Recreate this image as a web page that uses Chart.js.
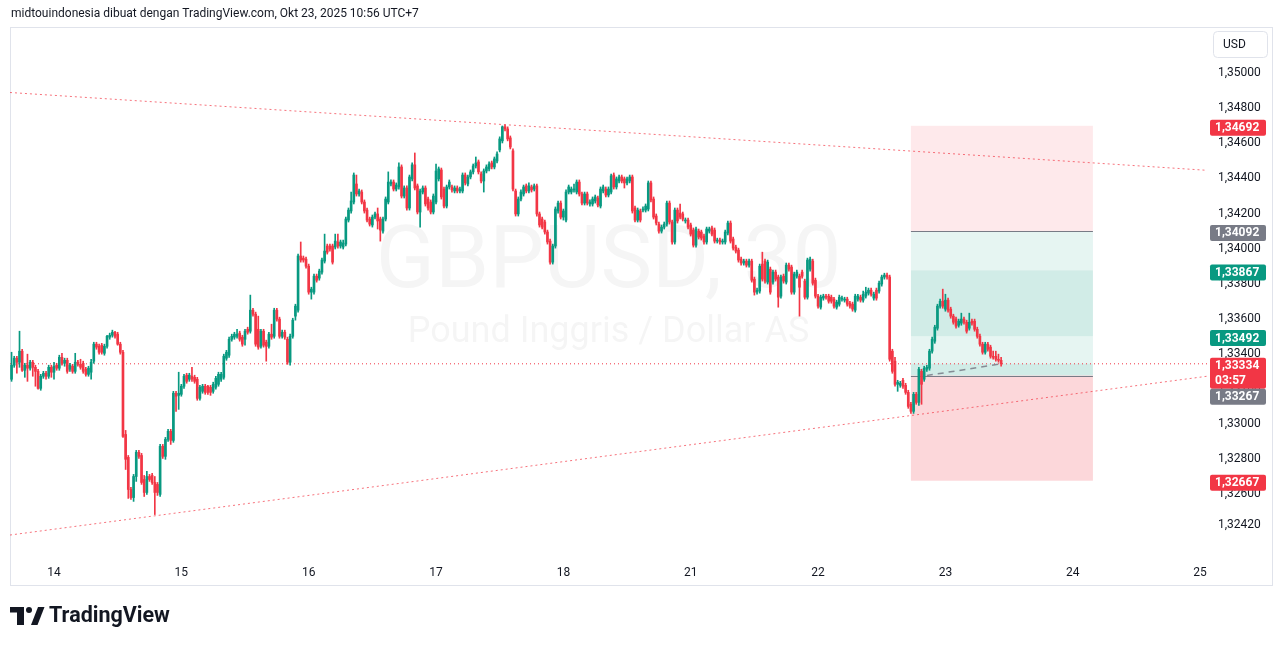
<!DOCTYPE html>
<html><head><meta charset="utf-8">
<script src="https://cdn.jsdelivr.net/npm/chart.js@4.4.1/dist/chart.umd.min.js"></script>
<style>
html,body{margin:0;padding:0;background:#fff;}
#wrap{position:relative;width:1281px;height:646px;}
</style></head><body>
<div id="wrap"><canvas id="c" width="1281" height="646"></canvas></div>
<script>
// ---- data (30-min candles, index 0 = 14 Oct 00:00 UTC+7) ----
const firstIndex = -16;
const opens = [
1.33246,1.33326,1.33366,1.33343,1.33406,1.33297,1.33326,1.33309,1.33343,1.33314,
1.33291,1.33194,1.33263,1.33280,1.33263,1.33314,1.33286,1.33326,1.33309,1.33371,
1.33337,1.33354,1.33303,1.33320,1.33291,1.33343,1.33331,1.33337,1.33303,1.33274,
1.33286,1.33349,1.33446,1.33434,1.33440,1.33394,1.33434,1.33486,1.33497,1.33514,
1.33503,1.33446,1.33400,1.32931,1.32800,1.32617,1.32571,1.32691,1.32829,1.32811,
1.32674,1.32600,1.32691,1.32697,1.32657,1.32646,1.32589,1.32863,1.32806,1.32903,
1.32949,1.32897,1.33166,1.33154,1.33160,1.33206,1.33269,1.33246,1.33263,1.33257,
1.33246,1.33137,1.33177,1.33206,1.33206,1.33200,1.33177,1.33200,1.33217,1.33246,
1.33257,1.33366,1.33383,1.33474,1.33486,1.33491,1.33509,1.33486,1.33474,1.33531,
1.33520,1.33640,1.33617,1.33531,1.33434,1.33520,1.33457,1.33434,1.33503,1.33491,
1.33640,1.33589,1.33491,1.33514,1.33474,1.33343,1.33491,1.33606,1.33640,1.33949,
1.33937,1.33931,1.33891,1.33743,1.33743,1.33834,1.33823,1.33857,1.33920,1.34006,
1.34006,1.34006,1.34000,1.34029,1.34006,1.34000,1.34017,1.34154,1.34206,1.34257,
1.34360,1.34303,1.34314,1.34257,1.34211,1.34160,1.34126,1.34171,1.34189,1.34160,
1.34091,1.34160,1.34257,1.34360,1.34371,1.34331,1.34343,1.34457,1.34291,1.34337,
1.34223,1.34389,1.34469,1.34349,1.34200,1.34314,1.34337,1.34274,1.34257,1.34200,
1.34257,1.34389,1.34440,1.34331,1.34234,1.34343,1.34343,1.34320,1.34337,1.34320,
1.34320,1.34411,1.34360,1.34400,1.34429,1.34463,1.34486,1.34417,1.34377,1.34434,
1.34446,1.34480,1.34457,1.34491,1.34554,1.34606,1.34686,1.34674,1.34623,1.34549,
1.34320,1.34189,1.34274,1.34303,1.34349,1.34320,1.34343,1.34331,1.34349,1.34189,
1.34160,1.34143,1.34086,1.34034,1.33914,1.34006,1.34206,1.34251,1.34171,1.34154,
1.34314,1.34314,1.34326,1.34314,1.34371,1.34303,1.34251,1.34303,1.34246,1.34246,
1.34263,1.34280,1.34234,1.34320,1.34331,1.34297,1.34314,1.34411,1.34343,1.34377,
1.34400,1.34389,1.34366,1.34377,1.34400,1.34223,1.34154,1.34206,1.34211,1.34211,
1.34217,1.34366,1.34274,1.34177,1.34131,1.34091,1.34114,1.34131,1.34251,1.34143,
1.34029,1.34211,1.34194,1.34189,1.34149,1.34154,1.34126,1.34097,1.34011,1.34091,
1.34086,1.34063,1.34029,1.34091,1.34109,1.34097,1.34034,1.34040,1.34029,1.34029,
1.34080,1.34137,1.34046,1.34000,1.33983,1.33931,1.33909,1.33920,1.33897,1.33920,
1.33817,1.33743,1.33749,1.33903,1.33920,1.33800,1.33874,1.33800,1.33857,1.33829,
1.33720,1.33834,1.33800,1.33897,1.33886,1.33743,1.33834,1.33834,1.33857,1.33806,
1.33714,1.33874,1.33920,1.33811,1.33720,1.33657,1.33709,1.33720,1.33720,1.33714,
1.33703,1.33657,1.33674,1.33703,1.33697,1.33703,1.33680,1.33674,1.33640,1.33703,
1.33714,1.33697,1.33720,1.33737,1.33754,1.33709,1.33754,1.33749,1.33789,1.33829,
1.33840,1.33829,1.33406,1.33349,1.33217,1.33211,1.33240,1.33211,1.33171,1.33103,
1.33063,1.33160,1.33114,1.33291,1.33246,1.33303,1.33309,1.33406,1.33463,1.33537,
1.33663,1.33691,1.33646,1.33697,1.33646,1.33606,1.33589,1.33554,1.33566,1.33589,
1.33571,1.33537,1.33577,1.33577,1.33531,1.33491,1.33446,1.33400,1.33446,1.33429,
1.33377,1.33377,1.33360,1.33354];
const highs = [
1.33400,1.33377,1.33377,1.33520,1.33417,1.33337,1.33389,1.33354,1.33354,1.33326,
1.33303,1.33274,1.33291,1.33291,1.33326,1.33326,1.33343,1.33337,1.33383,1.33394,
1.33366,1.33366,1.33337,1.33331,1.33394,1.33354,1.33360,1.33349,1.33314,1.33320,
1.33360,1.33457,1.33457,1.33446,1.33451,1.33446,1.33497,1.33509,1.33526,1.33520,
1.33514,1.33457,1.33411,1.32954,1.32811,1.32629,1.32703,1.32840,1.32840,1.32823,
1.32697,1.32720,1.32703,1.32709,1.32691,1.32657,1.32874,1.32874,1.32914,1.32960,
1.32960,1.33177,1.33177,1.33286,1.33217,1.33274,1.33280,1.33280,1.33314,1.33269,
1.33257,1.33211,1.33217,1.33217,1.33211,1.33211,1.33229,1.33263,1.33286,1.33286,
1.33389,1.33411,1.33486,1.33503,1.33514,1.33531,1.33520,1.33497,1.33531,1.33543,
1.33726,1.33651,1.33629,1.33606,1.33531,1.33531,1.33469,1.33514,1.33560,1.33651,
1.33651,1.33600,1.33526,1.33526,1.33486,1.33503,1.33594,1.33674,1.33960,1.34029,
1.33949,1.33943,1.33903,1.33771,1.33846,1.33846,1.33874,1.33937,1.34074,1.34017,
1.34017,1.34017,1.34074,1.34074,1.34040,1.34040,1.34171,1.34223,1.34314,1.34423,
1.34411,1.34331,1.34326,1.34269,1.34223,1.34171,1.34183,1.34200,1.34223,1.34171,
1.34171,1.34286,1.34429,1.34383,1.34383,1.34366,1.34480,1.34469,1.34349,1.34349,
1.34411,1.34480,1.34537,1.34360,1.34331,1.34349,1.34349,1.34286,1.34269,1.34303,
1.34474,1.34457,1.34451,1.34343,1.34354,1.34383,1.34354,1.34349,1.34349,1.34343,
1.34423,1.34423,1.34411,1.34440,1.34474,1.34514,1.34497,1.34429,1.34446,1.34469,
1.34486,1.34491,1.34514,1.34543,1.34629,1.34691,1.34697,1.34686,1.34634,1.34560,
1.34331,1.34286,1.34326,1.34354,1.34360,1.34366,1.34354,1.34360,1.34360,1.34200,
1.34171,1.34154,1.34097,1.34046,1.34017,1.34229,1.34263,1.34263,1.34217,1.34326,
1.34354,1.34343,1.34360,1.34383,1.34383,1.34314,1.34314,1.34314,1.34269,1.34286,
1.34297,1.34291,1.34343,1.34354,1.34343,1.34343,1.34417,1.34423,1.34400,1.34411,
1.34411,1.34400,1.34400,1.34411,1.34411,1.34234,1.34223,1.34217,1.34229,1.34246,
1.34377,1.34377,1.34286,1.34189,1.34143,1.34126,1.34143,1.34263,1.34263,1.34154,
1.34223,1.34223,1.34246,1.34200,1.34166,1.34166,1.34137,1.34109,1.34114,1.34103,
1.34097,1.34074,1.34114,1.34114,1.34120,1.34109,1.34051,1.34051,1.34046,1.34097,
1.34149,1.34149,1.34057,1.34011,1.33994,1.33943,1.33931,1.33931,1.33931,1.33931,
1.33829,1.33766,1.33903,1.33971,1.33931,1.33926,1.33886,1.33869,1.33869,1.33840,
1.33840,1.33846,1.33909,1.33909,1.33897,1.33857,1.33869,1.33846,1.33869,1.33817,
1.33937,1.33943,1.33931,1.33823,1.33731,1.33726,1.33731,1.33731,1.33731,1.33726,
1.33714,1.33697,1.33726,1.33720,1.33714,1.33714,1.33691,1.33686,1.33731,1.33731,
1.33726,1.33749,1.33771,1.33766,1.33766,1.33743,1.33766,1.33806,1.33840,1.33851,
1.33851,1.33840,1.33417,1.33371,1.33240,1.33234,1.33251,1.33223,1.33183,1.33114,
1.33171,1.33171,1.33314,1.33303,1.33320,1.33326,1.33417,1.33486,1.33554,1.33674,
1.33703,1.33760,1.33731,1.33709,1.33657,1.33617,1.33600,1.33589,1.33623,1.33600,
1.33583,1.33623,1.33589,1.33589,1.33543,1.33503,1.33457,1.33457,1.33457,1.33440,
1.33406,1.33406,1.33389,1.33371];
const lows = [
1.33234,1.33314,1.33280,1.33314,1.33291,1.33257,1.33234,1.33297,1.33263,1.33206,
1.33189,1.33183,1.33251,1.33246,1.33251,1.33257,1.33246,1.33297,1.33297,1.33326,
1.33320,1.33280,1.33291,1.33280,1.33280,1.33320,1.33303,1.33280,1.33263,1.33263,
1.33246,1.33337,1.33417,1.33389,1.33389,1.33383,1.33423,1.33474,1.33486,1.33480,
1.33440,1.33389,1.32914,1.32731,1.32566,1.32560,1.32549,1.32663,1.32794,1.32646,
1.32577,1.32589,1.32663,1.32646,1.32474,1.32583,1.32577,1.32794,1.32789,1.32891,
1.32874,1.32886,1.33063,1.33074,1.33149,1.33194,1.33223,1.33234,1.33234,1.33223,
1.33126,1.33126,1.33166,1.33160,1.33160,1.33154,1.33166,1.33189,1.33206,1.33234,
1.33246,1.33354,1.33371,1.33463,1.33474,1.33480,1.33463,1.33434,1.33440,1.33503,
1.33509,1.33606,1.33434,1.33417,1.33423,1.33429,1.33349,1.33423,1.33474,1.33480,
1.33577,1.33480,1.33480,1.33474,1.33331,1.33326,1.33480,1.33583,1.33629,1.33914,
1.33914,1.33880,1.33731,1.33703,1.33731,1.33800,1.33811,1.33846,1.33909,1.33960,
1.33977,1.33903,1.33989,1.33994,1.33994,1.33989,1.34006,1.34143,1.34194,1.34246,
1.34291,1.34291,1.34246,1.34194,1.34143,1.34120,1.34114,1.34160,1.34103,1.34034,
1.34080,1.34149,1.34246,1.34349,1.34320,1.34320,1.34331,1.34280,1.34280,1.34211,
1.34211,1.34377,1.34326,1.34189,1.34114,1.34303,1.34234,1.34211,1.34189,1.34189,
1.34246,1.34377,1.34274,1.34223,1.34223,1.34331,1.34314,1.34309,1.34309,1.34309,
1.34309,1.34354,1.34349,1.34389,1.34417,1.34451,1.34417,1.34366,1.34314,1.34423,
1.34434,1.34446,1.34446,1.34480,1.34543,1.34594,1.34663,1.34606,1.34560,1.34320,
1.34177,1.34177,1.34263,1.34291,1.34309,1.34309,1.34314,1.34320,1.34177,1.34114,
1.34103,1.34074,1.34017,1.33903,1.33903,1.33994,1.34194,1.34160,1.34154,1.34143,
1.34303,1.34303,1.34314,1.34303,1.34291,1.34240,1.34240,1.34240,1.34234,1.34234,
1.34251,1.34229,1.34223,1.34309,1.34286,1.34286,1.34303,1.34331,1.34331,1.34366,
1.34366,1.34337,1.34354,1.34366,1.34194,1.34143,1.34143,1.34143,1.34200,1.34200,
1.34206,1.34257,1.34160,1.34126,1.34080,1.34080,1.34103,1.34120,1.34131,1.34017,
1.34017,1.34137,1.34160,1.34149,1.34137,1.34103,1.34063,1.34000,1.34000,1.34046,
1.34040,1.34017,1.34017,1.34080,1.34063,1.34023,1.34023,1.34017,1.34017,1.34017,
1.34069,1.34023,1.33983,1.33966,1.33914,1.33897,1.33897,1.33886,1.33886,1.33800,
1.33726,1.33731,1.33737,1.33806,1.33794,1.33789,1.33731,1.33789,1.33806,1.33657,
1.33709,1.33794,1.33789,1.33863,1.33731,1.33731,1.33823,1.33606,1.33823,1.33703,
1.33703,1.33863,1.33783,1.33709,1.33651,1.33646,1.33697,1.33703,1.33680,1.33680,
1.33651,1.33646,1.33663,1.33691,1.33686,1.33663,1.33651,1.33634,1.33629,1.33691,
1.33686,1.33686,1.33709,1.33726,1.33720,1.33697,1.33697,1.33737,1.33777,1.33817,
1.33817,1.33349,1.33280,1.33206,1.33177,1.33200,1.33194,1.33160,1.33080,1.33051,
1.33051,1.33103,1.33097,1.33103,1.33234,1.33291,1.33297,1.33394,1.33451,1.33526,
1.33651,1.33651,1.33634,1.33629,1.33594,1.33560,1.33537,1.33543,1.33554,1.33560,
1.33509,1.33526,1.33554,1.33520,1.33480,1.33434,1.33389,1.33389,1.33406,1.33366,
1.33360,1.33349,1.33343,1.33320];
const closes = [
1.33326,1.33366,1.33343,1.33406,1.33297,1.33326,1.33309,1.33343,1.33314,1.33291,
1.33194,1.33263,1.33280,1.33263,1.33314,1.33286,1.33320,1.33309,1.33371,1.33337,
1.33354,1.33291,1.33326,1.33291,1.33343,1.33331,1.33314,1.33291,1.33274,1.33309,
1.33343,1.33446,1.33429,1.33400,1.33400,1.33434,1.33491,1.33497,1.33514,1.33491,
1.33446,1.33400,1.32920,1.32789,1.32617,1.32571,1.32691,1.32829,1.32806,1.32657,
1.32600,1.32691,1.32674,1.32657,1.32600,1.32600,1.32863,1.32806,1.32903,1.32949,
1.32897,1.33166,1.33149,1.33166,1.33206,1.33263,1.33234,1.33269,1.33246,1.33234,
1.33137,1.33200,1.33206,1.33171,1.33171,1.33171,1.33217,1.33251,1.33274,1.33274,
1.33377,1.33400,1.33474,1.33491,1.33503,1.33503,1.33474,1.33446,1.33520,1.33514,
1.33640,1.33617,1.33446,1.33429,1.33520,1.33440,1.33434,1.33503,1.33486,1.33640,
1.33589,1.33491,1.33514,1.33486,1.33343,1.33491,1.33583,1.33663,1.33949,1.33926,
1.33926,1.33891,1.33743,1.33760,1.33834,1.33811,1.33863,1.33926,1.33977,1.33971,
1.33989,1.33914,1.34034,1.34006,1.34029,1.34023,1.34160,1.34211,1.34263,1.34411,
1.34303,1.34320,1.34257,1.34206,1.34154,1.34131,1.34171,1.34189,1.34149,1.34097,
1.34160,1.34274,1.34371,1.34371,1.34331,1.34354,1.34457,1.34291,1.34337,1.34223,
1.34400,1.34469,1.34337,1.34200,1.34320,1.34337,1.34246,1.34223,1.34200,1.34291,
1.34434,1.34446,1.34286,1.34234,1.34343,1.34371,1.34326,1.34337,1.34320,1.34331,
1.34411,1.34366,1.34400,1.34429,1.34463,1.34480,1.34429,1.34377,1.34434,1.34457,
1.34474,1.34457,1.34503,1.34531,1.34617,1.34686,1.34674,1.34617,1.34571,1.34331,
1.34189,1.34274,1.34314,1.34343,1.34320,1.34349,1.34326,1.34349,1.34189,1.34126,
1.34114,1.34086,1.34029,1.33914,1.34006,1.34217,1.34251,1.34171,1.34206,1.34314,
1.34343,1.34331,1.34331,1.34371,1.34303,1.34251,1.34303,1.34251,1.34257,1.34274,
1.34286,1.34240,1.34331,1.34343,1.34297,1.34331,1.34406,1.34343,1.34389,1.34400,
1.34377,1.34366,1.34389,1.34400,1.34206,1.34154,1.34211,1.34154,1.34217,1.34234,
1.34366,1.34269,1.34171,1.34137,1.34091,1.34114,1.34131,1.34251,1.34143,1.34029,
1.34211,1.34149,1.34171,1.34160,1.34154,1.34114,1.34074,1.34011,1.34103,1.34057,
1.34051,1.34029,1.34103,1.34103,1.34074,1.34034,1.34040,1.34029,1.34034,1.34086,
1.34137,1.34034,1.33994,1.33977,1.33926,1.33909,1.33920,1.33897,1.33920,1.33811,
1.33743,1.33754,1.33891,1.33817,1.33806,1.33914,1.33743,1.33857,1.33817,1.33714,
1.33829,1.33806,1.33897,1.33874,1.33743,1.33846,1.33857,1.33771,1.33834,1.33714,
1.33926,1.33931,1.33794,1.33720,1.33663,1.33714,1.33720,1.33714,1.33691,1.33691,
1.33663,1.33686,1.33714,1.33709,1.33703,1.33674,1.33663,1.33646,1.33720,1.33720,
1.33697,1.33731,1.33743,1.33754,1.33731,1.33731,1.33709,1.33794,1.33829,1.33840,
1.33829,1.33360,1.33291,1.33217,1.33229,1.33223,1.33206,1.33171,1.33091,1.33063,
1.33160,1.33114,1.33303,1.33217,1.33309,1.33314,1.33406,1.33474,1.33543,1.33663,
1.33691,1.33663,1.33697,1.33640,1.33606,1.33571,1.33549,1.33577,1.33589,1.33571,
1.33520,1.33571,1.33566,1.33531,1.33491,1.33446,1.33400,1.33446,1.33417,1.33377,
1.33371,1.33360,1.33354,1.33334];

const dayTicks  = [0, 48, 96, 144, 192, 240, 288, 336, 384, 432];
const dayLabels = ['14','15','16','17','18','21','22','23','24','25'];
const priceTicks = [1.3242, 1.326, 1.328, 1.330, 1.332, 1.334, 1.336, 1.338, 1.340, 1.342, 1.344, 1.346, 1.348, 1.350];
const xMin = -16.585, xMax = 434.6;
const yMin = 1.32226, yMax = 1.35250;
const lastPrice = 1.33334;

// drawings
const trendTopX = [-16.585, 434.6], trendTopY = [1.34882, 1.34438];
const trendBotX = [-16.585, 434.6], trendBotY = [1.32357, 1.33263];
const posStart = 323, posEnd = 391.6;
const bandHigh  = [1.34692, 1.34092, 1.33867, 1.33492, 1.33334, 1.33267];
const bandLow   = [1.34092, 1.33867, 1.33492, 1.33334, 1.33267, 1.32667];
const bandColor = ['rgba(242,54,69,0.11)','rgba(8,153,129,0.10)','rgba(8,153,129,0.19)','rgba(8,153,129,0.10)','rgba(8,153,129,0.19)','rgba(242,54,69,0.20)'];
const entryLevels = [1.34092, 1.33267];
const projX = [329, 357], projY = [1.33267, 1.33334];

const labelPrices = [1.34692, 1.34092, 1.33867, 1.33492, 1.33334, 1.33267, 1.32667];
const labelColors = ['#f23645','#787b86','#089981','#089981','#f23645','#787b86','#f23645'];
const labelSub    = ['', '', '', '', '03:57', '', ''];

const headerText = 'midtouindonesia dibuat dengan TradingView.com, Okt 23, 2025 10:56 UTC+7';
const watermark1 = 'GBPUSD, 30';
const watermark2 = 'Pound Inggris / Dollar AS';

// ---- chart ----
const GREEN = '#089981', RED = '#f23645';
const FONT = 'Roboto, "Liberation Sans", Arial, sans-serif';
Chart.defaults.font.family = FONT;
Chart.defaults.font.size = 12;
Chart.defaults.color = '#131722';

const candleX = opens.map((_, k) => firstIndex + k);
const candleColor = k => closes[k] >= opens[k] ? GREEN : RED;
const fmt = v => v.toFixed(5).replace('.', ',');

const decor = {
  id: 'decor',
  beforeDraw(chart) {
    const c = chart.ctx;
    c.save();
    c.fillStyle = '#ffffff';
    c.fillRect(0, 0, chart.width, chart.height);
    c.fillStyle = '#131722';
    c.font = '12px ' + FONT;
    c.textBaseline = 'middle';
    c.textAlign = 'left';
    c.fillText(headerText, 11, 14);
    // pane frame
    c.strokeStyle = '#e0e3eb';
    c.lineWidth = 1;
    c.strokeRect(10.5, 27.5, 1262, 558);
    // logo
    c.fillStyle = '#131722';
    c.fillRect(10, 607, 14, 5.5);
    c.fillRect(17, 607, 7, 18);
    c.beginPath(); c.arc(29, 610, 3, 0, Math.PI * 2); c.fill();
    c.beginPath(); c.moveTo(31, 625); c.lineTo(38, 607); c.lineTo(44.5, 607); c.lineTo(37.5, 625); c.closePath(); c.fill();
    c.font = 'bold 21.5px ' + FONT;
    c.fillText('TradingView', 49, 616.5);
    c.restore();
  },
  beforeDatasetsDraw(chart) {
    const c = chart.ctx, a = chart.chartArea;
    const xs = chart.scales.x, ys = chart.scales.y;
    c.save();
    c.beginPath(); c.rect(a.left, a.top, a.right - a.left, a.bottom - a.top); c.clip();
    // watermark
    c.fillStyle = 'rgba(19,23,34,0.045)';
    c.textAlign = 'center'; c.textBaseline = 'middle';
    const cx = (a.left + a.right) / 2;
    c.font = '87px ' + FONT;
    c.fillText(watermark1, cx, 265);
    c.font = '36px ' + FONT;
    c.fillText(watermark2, cx, 333);
    // position tool bands
    const x0 = xs.getPixelForValue(posStart), x1 = xs.getPixelForValue(posEnd);
    bandHigh.forEach((hi, k) => {
      const yT = ys.getPixelForValue(hi), yB = ys.getPixelForValue(bandLow[k]);
      c.fillStyle = bandColor[k];
      c.fillRect(x0, yT, x1 - x0, yB - yT);
    });
    c.strokeStyle = '#787b86'; c.lineWidth = 1;
    entryLevels.forEach(p => {
      const y = Math.round(ys.getPixelForValue(p)) + 0.5;
      c.beginPath(); c.moveTo(x0, y); c.lineTo(x1, y); c.stroke();
    });
    c.restore();
  },
  afterDraw(chart) {
    const c = chart.ctx, a = chart.chartArea, ys = chart.scales.y;
    c.save();
    // USD button
    c.strokeStyle = '#e0e3eb'; c.lineWidth = 1;
    c.beginPath(); c.roundRect(1213.5, 31.5, 54, 26, 4); c.stroke();
    c.fillStyle = '#131722'; c.font = '12px ' + FONT; c.textBaseline = 'middle'; c.textAlign = 'left';
    c.fillText('USD', 1223, 44.5);
    // price labels
    let prevBottom = -Infinity;
    const bx = a.right + 3, bw = 56;
    labelPrices.forEach((p, k) => {
      const h = labelSub[k] ? 31 : 16;
      let top = ys.getPixelForValue(p) - 6;
      if (top < prevBottom) top = prevBottom;
      c.fillStyle = labelColors[k];
      c.beginPath(); c.roundRect(bx, top, bw, h, 2); c.fill();
      c.fillStyle = '#ffffff';
      c.font = 'bold 12px ' + FONT;
      c.fillText(fmt(p), bx + 5, top + 8.5);
      if (labelSub[k]) c.fillText(labelSub[k], bx + 5, top + 23);
      prevBottom = top + h;
    });
    c.restore();
  }
};

const lineDs = (xArr, yArr, color, dash, width, order) => ({
  type: 'line',
  data: xArr.map((x, k) => ({ x: x, y: yArr[k] })),
  borderColor: color, borderWidth: width, borderDash: dash,
  pointRadius: 0, fill: false, tension: 0, order: order
});

new Chart(document.getElementById('c'), {
  type: 'bar',
  data: {
    datasets: [
      lineDs(projX, projY, 'rgba(120,123,134,0.85)', [6, 5], 1.5, 0),
      {
        type: 'bar', label: 'body',
        data: opens.map((o, k) => ({ x: candleX[k], y: [o, closes[k]] })),
        backgroundColor: ctx => candleColor(ctx.dataIndex),
        borderWidth: 0, barThickness: 2, minBarLength: 1, grouped: false, order: 1
      },
      {
        type: 'bar', label: 'wick',
        data: lows.map((l, k) => ({ x: candleX[k], y: [l, highs[k]] })),
        backgroundColor: ctx => candleColor(ctx.dataIndex),
        borderWidth: 0, barThickness: 1, grouped: false, order: 2
      },
      lineDs([xMin, xMax], [lastPrice, lastPrice], '#f23645', [1, 3], 1, 3),
      lineDs(trendTopX, trendTopY, 'rgba(242,54,69,0.7)', [2, 3], 1, 4),
      lineDs(trendBotX, trendBotY, 'rgba(242,54,69,0.7)', [2, 3], 1, 5)
    ]
  },
  options: {
    responsive: false, animation: false, devicePixelRatio: 1,
    layout: { padding: { left: 10, top: 28, right: 0, bottom: 61 } },
    plugins: { legend: { display: false }, tooltip: { enabled: false } },
    scales: {
      x: {
        type: 'linear', min: xMin, max: xMax, offset: false,
        grid: { display: false, drawTicks: false }, border: { display: false },
        afterBuildTicks: s => { s.ticks = dayTicks.map(v => ({ value: v })); },
        afterFit: s => { s.height = 27; },
        ticks: {
          autoSkip: false, maxRotation: 0, padding: 8, color: '#131722', font: { size: 12 },
          callback: v => { const k = dayTicks.indexOf(v); return k >= 0 ? dayLabels[k] : ''; }
        }
      },
      y: {
        type: 'linear', position: 'right', min: yMin, max: yMax,
        grid: { display: false, drawTicks: false }, border: { display: false },
        afterBuildTicks: s => { s.ticks = priceTicks.map(v => ({ value: v })); },
        afterFit: s => { s.width = 74; },
        ticks: { autoSkip: false, padding: 11, labelOffset: 1.5, color: '#131722', font: { size: 12 }, callback: v => fmt(v) }
      }
    }
  },
  plugins: [decor]
});
</script>
</body></html>
